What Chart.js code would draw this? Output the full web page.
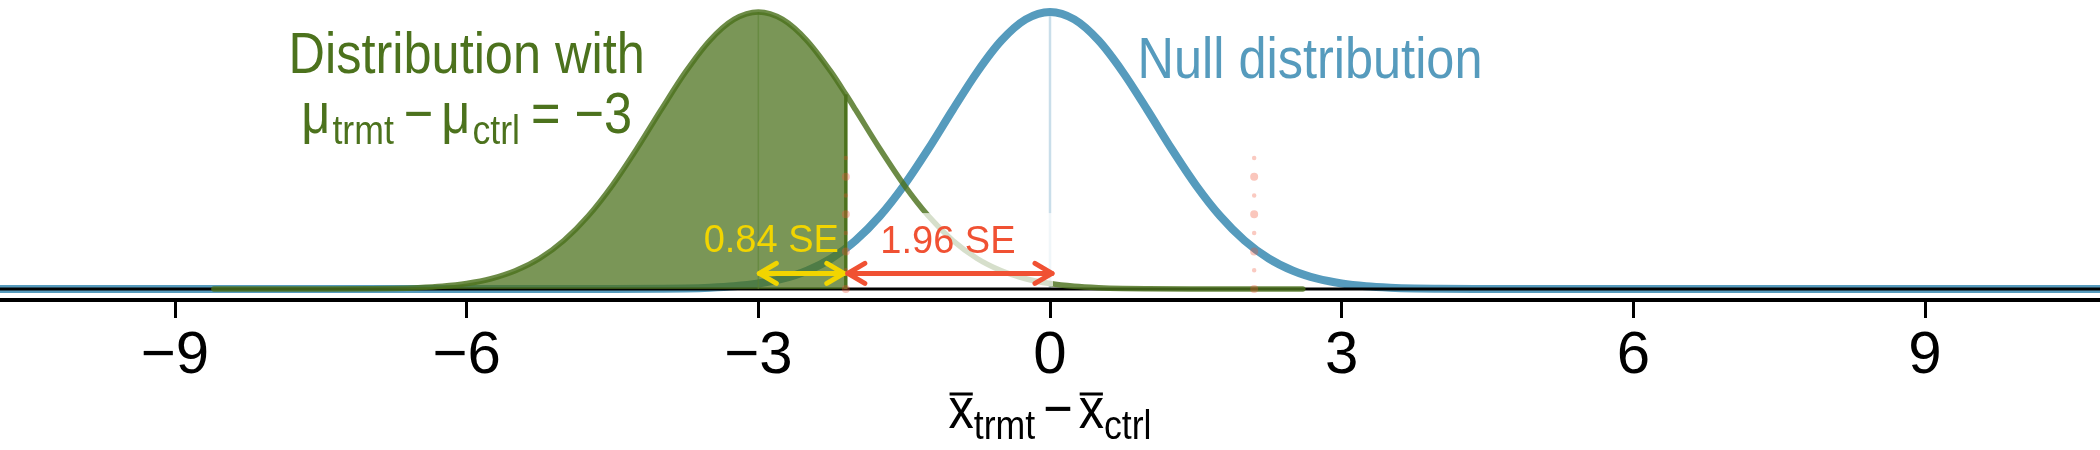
<!DOCTYPE html>
<html>
<head>
<meta charset="utf-8">
<script src="https://cdn.jsdelivr.net/npm/chart.js@4.4.1/dist/chart.umd.min.js"></script>
<style>
html,body{margin:0;padding:0;background:#fff;}
#wrap{width:2100px;height:450px;}
</style>
</head>
<body>
<div id="wrap"><canvas id="c" width="2100" height="450"></canvas></div>
<script>
// ---------- data ----------
const nullX = [-10.8,-8,-6,-5,-4.5,-4,-3.75,-3.5,-3.25,-3,-2.75,-2.5,-2.25,-2,-1.75,-1.5,-1.25,-1,-0.75,-0.5,-0.25,0,
               0.25,0.5,0.75,1,1.25,1.5,1.75,2,2.25,2.5,2.75,3,3.25,3.5,3.75,4,4.5,5,6,8,10.8];
const nullY = [0,0,0,0,0.0001,0.0004,0.0008,0.0018,0.0037,0.0074,0.0138,0.0245,0.0410,0.0652,0.0981,0.1397,0.1885,0.2409,0.2914,0.3339,0.3623,0.3723,
               0.3623,0.3339,0.2914,0.2409,0.1885,0.1397,0.0981,0.0652,0.0410,0.0245,0.0138,0.0074,0.0037,0.0018,0.0008,0.0004,0.0001,0,0,0,0];

const altX = [-8.6,-8,-7.5,-7,-6.75,-6.5,-6.25,-6,-5.75,-5.5,-5.25,-5,-4.75,-4.5,-4.25,-4,-3.75,-3.5,-3.25,-3,
              -2.75,-2.5,-2.25,-2.1,-2,-1.75,-1.5,-1.25,-1,-0.75,-0.5,-0.25,0,0.25,0.5,0.75,1,1.5,2,2.6];
const altY = [0,0,0.0001,0.0004,0.0008,0.0018,0.0037,0.0074,0.0138,0.0245,0.0410,0.0652,0.0981,0.1397,0.1885,0.2409,0.2914,0.3339,0.3623,0.3723,
              0.3623,0.3339,0.2914,0.2616,0.2409,0.1885,0.1397,0.0981,0.0652,0.0410,0.0245,0.0138,0.0074,0.0037,0.0018,0.0008,0.0004,0.0001,0,0];

const nullMean = 0;
const altMean = -3;
const peakHeight = 0.3723;
const cutoffX = -2.1;          // rejection cutoff (1.96 SE below 0)
const cutoffHeight = 0.2616;   // height of alternative curve at the cutoff
const critValues = [-2.1, 2.1];
const critTop = 0.1774;
const arrowSpans = [[-3, -2.1], [-2.1, 0]];
const arrowHeight = 0.021;
const arrowLabels = ['0.84 SE', '1.96 SE'];

const tickValues = [-9, -6, -3, 0, 3, 6, 9];
const tickLabels = ['\u22129', '\u22126', '\u22123', '0', '3', '6', '9'];

// ---------- styling ----------
const FONT = '"Liberation Sans", Arial, Helvetica, sans-serif';
const BLUE = '#569BBD';
const GREEN = '#4C721D';
const RED = '#F05133';
const YELLOW = '#F2D500';
const BIG = 58, SUB = 41, SX = 0.87;

const pts = (xs, ys) => xs.map((x, i) => ({x: x, y: ys[i]}));
const altPts = pts(altX, altY);
const shadePts = altPts.filter(p => p.x <= cutoffX);

const base = {pointRadius: 0, pointHoverRadius: 0, fill: false, tension: 0, borderCapStyle: 'butt'};
const datasets = [
  Object.assign({}, base, {label: 'nullMean', data: [{x: nullMean, y: 0}, {x: nullMean, y: peakHeight}], borderColor: '#c9deea', borderWidth: 2.5}),
  Object.assign({}, base, {label: 'null', data: pts(nullX, nullY), borderColor: BLUE, borderWidth: 8, cubicInterpolationMode: 'monotone'}),
  Object.assign({}, base, {label: 'zero', data: [{x: -10.8, y: 0}, {x: 10.8, y: 0}], borderColor: '#000', borderWidth: 3}),
  Object.assign({}, base, {label: 'shade', data: shadePts, borderWidth: 0, borderColor: 'rgba(0,0,0,0)', backgroundColor: 'rgba(76,114,29,0.74)', fill: 'origin', cubicInterpolationMode: 'monotone'}),
  Object.assign({}, base, {label: 'altMean', data: [{x: altMean, y: 0}, {x: altMean, y: peakHeight}], borderColor: 'rgba(90,130,50,0.55)', borderWidth: 1.5}),
  Object.assign({}, base, {label: 'cutoff', data: [{x: cutoffX, y: 0}, {x: cutoffX, y: cutoffHeight}], borderColor: GREEN, borderWidth: 3.5}),
  Object.assign({}, base, {label: 'alt', data: altPts, borderColor: 'rgba(76,114,29,0.82)', borderWidth: 5.5, cubicInterpolationMode: 'monotone', borderCapStyle: 'round'})
];
const NULL_INDEX = 1;
const ALT_INDEX = datasets.length - 1;
critValues.forEach(v => {
  datasets.push(Object.assign({}, base, {label: 'critBig', data: [{x: v, y: 0}, {x: v, y: critTop}], borderColor: 'rgba(240,81,51,0.33)', borderWidth: 8, borderDash: [0, 37.4], borderCapStyle: 'round'}));
  datasets.push(Object.assign({}, base, {label: 'critSmall', data: [{x: v, y: 0}, {x: v, y: critTop}], borderColor: 'rgba(240,81,51,0.3)', borderWidth: 4.5, borderDash: [0, 37.4], borderDashOffset: -18.7, borderCapStyle: 'round'}));
});
datasets.forEach((d, i) => { d.order = datasets.length - i; });

// rich text: parts [{t, s, dy, gap, bar}], drawn horizontally condensed by sx
function drawRich(ctx, parts, x, y, align, color, sx) {
  let total = 0;
  parts.forEach(p => { ctx.font = p.s + 'px ' + FONT; p.w = ctx.measureText(p.t).width * sx; total += p.w + (p.gap || 0); });
  let cx = align === 'center' ? x - total / 2 : (align === 'right' ? x - total : x);
  ctx.fillStyle = color; ctx.strokeStyle = color;
  ctx.textAlign = 'left'; ctx.textBaseline = 'alphabetic';
  parts.forEach(p => {
    cx += (p.gap || 0);
    ctx.save();
    ctx.translate(cx, y + (p.dy || 0));
    ctx.scale(sx, 1);
    ctx.font = p.s + 'px ' + FONT;
    ctx.fillText(p.t, 0, 0);
    ctx.restore();
    if (p.bar) {
      ctx.lineWidth = 3; ctx.lineCap = 'butt';
      ctx.beginPath(); ctx.moveTo(cx + 1, y - 34); ctx.lineTo(cx + p.w - 1, y - 34); ctx.stroke();
    }
    cx += p.w;
  });
}

function drawArrow(ctx, x1, x2, y, color) {
  ctx.save();
  ctx.strokeStyle = color; ctx.lineWidth = 5; ctx.lineCap = 'round'; ctx.lineJoin = 'round';
  ctx.beginPath(); ctx.moveTo(x1, y); ctx.lineTo(x2, y); ctx.stroke();
  const ax = 17, ay = 10;
  ctx.beginPath();
  ctx.moveTo(x1 + ax, y - ay); ctx.lineTo(x1, y); ctx.lineTo(x1 + ax, y + ay);
  ctx.moveTo(x2 - ax, y - ay); ctx.lineTo(x2, y); ctx.lineTo(x2 - ax, y + ay);
  ctx.stroke();
  ctx.restore();
}

const annot = {
  id: 'annot',
  afterDatasetDraw(chart, args) {
    if (args.index !== ALT_INDEX) return;
    const xs = chart.scales.x, ys = chart.scales.y, ctx = chart.ctx;
    const x1 = xs.getPixelForValue(arrowSpans[1][0]) + 2, x2 = xs.getPixelForValue(arrowSpans[1][1]) + 3;
    const y1 = ys.getPixelForValue(0.102), y2 = ys.getPixelForValue(0.004);
    ctx.save();
    ctx.fillStyle = 'rgba(255,255,255,0.72)';
    ctx.fillRect(x1, y1, x2 - x1, y2 - y1);
    ctx.restore();
    // keep the null curve above the label box
    ctx.save();
    ctx.beginPath(); ctx.rect(x1, y1, x2 - x1, y2 - y1); ctx.clip();
    chart.getDatasetMeta(NULL_INDEX).controller.draw();
    ctx.restore();
  },
  afterDatasetsDraw(chart) {
    const xs = chart.scales.x, ys = chart.scales.y, ctx = chart.ctx;
    ctx.save();
    // arrows
    const ay = ys.getPixelForValue(arrowHeight);
    drawArrow(ctx, xs.getPixelForValue(arrowSpans[0][0]) + 1, xs.getPixelForValue(arrowSpans[0][1]) - 2, ay, YELLOW);
    drawArrow(ctx, xs.getPixelForValue(arrowSpans[1][0]) + 2, xs.getPixelForValue(arrowSpans[1][1]) + 2, ay, RED);
    // SE labels
    drawRich(ctx, [{t: arrowLabels[0], s: 38}], xs.getPixelForValue(arrowSpans[0][1]) - 7, ys.getPixelForValue(0.05), 'right', YELLOW, 1);
    drawRich(ctx, [{t: arrowLabels[1], s: 38}], xs.getPixelForValue((arrowSpans[1][0] + arrowSpans[1][1]) / 2), ys.getPixelForValue(0.048), 'center', RED, 1);
    // distribution labels
    drawRich(ctx, [{t: 'Distribution with', s: BIG}], xs.getPixelForValue(-6), ys.getPixelForValue(0.2903), 'center', GREEN, SX);
    drawRich(ctx, [
      {t: '\u03bc', s: BIG}, {t: 'trmt', s: SUB, dy: 11, gap: 2},
      {t: '\u2212', s: BIG, gap: 10}, {t: '\u03bc', s: BIG, gap: 8}, {t: 'ctrl', s: SUB, dy: 11, gap: 2},
      {t: '=', s: BIG, gap: 11}, {t: ' \u22123', s: BIG}
    ], xs.getPixelForValue(-6), ys.getPixelForValue(0.2097), 'center', GREEN, SX);
    drawRich(ctx, [{t: 'Null distribution', s: BIG}], xs.getPixelForValue(0.9), ys.getPixelForValue(0.2836), 'left', BLUE, SX);
    // axis title
    drawRich(ctx, [
      {t: 'x', s: BIG, bar: true}, {t: 'trmt', s: SUB, dy: 11},
      {t: '\u2212', s: BIG, gap: 8}, {t: 'x', s: BIG, bar: true, gap: 6}, {t: 'ctrl', s: SUB, dy: 11}
    ], xs.getPixelForValue(0), chart.chartArea.bottom + 128, 'center', '#000', SX);
    ctx.restore();
  }
};

new Chart(document.getElementById('c'), {
  type: 'line',
  data: {datasets: datasets},
  plugins: [annot],
  options: {
    responsive: false,
    animation: false,
    events: [],
    layout: {padding: 0},
    plugins: {legend: {display: false}, tooltip: {enabled: false}},
    scales: {
      x: {
        type: 'linear', min: -10.8, max: 10.8,
        afterFit: s => { s.height = 150; },
        afterBuildTicks: s => { s.ticks = tickValues.map(v => ({value: v})); },
        ticks: {
          includeBounds: false, autoSkip: false, maxRotation: 0, padding: 2,
          color: '#000', font: {family: FONT, size: 60},
          callback: (v) => { const i = tickValues.indexOf(v); return i >= 0 ? tickLabels[i] : ''; }
        },
        grid: {display: true, drawOnChartArea: false, drawTicks: true, tickLength: 18, lineWidth: 3, tickWidth: 3, tickColor: '#000', color: '#000'},
        border: {display: true, color: '#000', width: 4}
      },
      y: {type: 'linear', display: false, min: -0.01478, max: 0.3884}
    }
  }
});
</script>
</body>
</html>
